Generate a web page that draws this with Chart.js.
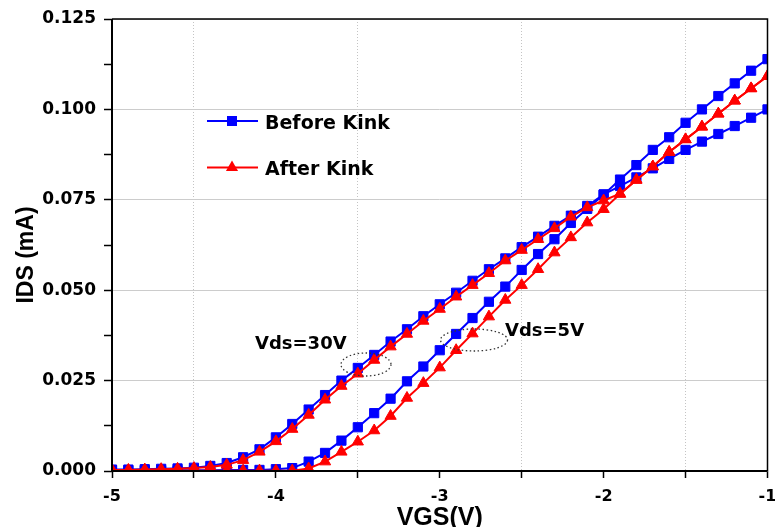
<!DOCTYPE html>
<html>
<head>
<meta charset="utf-8">
<script src="https://cdn.jsdelivr.net/npm/chart.js@4.4.1/dist/chart.umd.min.js"></script>
<style>
html,body{margin:0;padding:0;background:#fff;overflow:hidden}
#wrap{width:775px;height:527px;position:relative}
</style>
</head>
<body>
<div id="wrap"><canvas id="c" width="775" height="527"></canvas></div>
<script>
// ---- data ----
const vgs = [-5.0,-4.9,-4.8,-4.7,-4.6,-4.5,-4.4,-4.3,-4.2,-4.1,-4.0,-3.9,-3.8,-3.7,-3.6,-3.5,-3.4,-3.3,-3.2,-3.1,-3.0,-2.9,-2.8,-2.7,-2.6,-2.5,-2.4,-2.3,-2.2,-2.1,-2.0,-1.9,-1.8,-1.7,-1.6,-1.5,-1.4,-1.3,-1.2,-1.1,-1.0];

const beforeKinkVds30 = [0.0004,0.0004,0.0005,0.0006,0.0007,0.0009,0.0014,0.0022,0.0038,0.0060,
  0.0093,0.0130,0.0170,0.0210,0.0250,0.0285,0.0321,0.0358,0.0392,0.0428,
  0.0461,0.0493,0.0526,0.0558,0.0588,0.0619,0.0648,0.0678,0.0706,0.0733,
  0.0765,0.0788,0.0812,0.0837,0.0863,0.0888,0.0911,0.0932,0.0954,0.0977,0.1000];

const afterKinkVds30 = [0.0003,0.0003,0.0004,0.0005,0.0006,0.0008,0.0011,0.0017,0.0030,0.0053,
  0.0082,0.0116,0.0155,0.0197,0.0235,0.0269,0.0307,0.0344,0.0379,0.0415,
  0.0448,0.0482,0.0514,0.0547,0.0582,0.0611,0.0641,0.0671,0.0703,0.0729,
  0.0748,0.0767,0.0805,0.0842,0.0882,0.0917,0.0952,0.0988,0.1024,0.1058,0.1092];

const beforeKinkVds5 = [0.0002,0.0002,0.0002,0.0002,0.0002,0.0002,0.0002,0.0003,0.0003,0.0003,
  0.0005,0.0008,0.0026,0.0050,0.0084,0.0121,0.0160,0.0200,0.0248,0.0289,
  0.0334,0.0379,0.0423,0.0468,0.0510,0.0556,0.0600,0.0641,0.0686,0.0725,
  0.0764,0.0806,0.0846,0.0888,0.0923,0.0963,0.1000,0.1037,0.1072,0.1107,0.1139];

const afterKinkVds5 = [0.0001,0.0001,0.0001,0.0001,0.0001,0.0001,0.0001,0.0001,0.0001,0.0001,
  0.0001,0.0001,0.0007,0.0026,0.0053,0.0081,0.0112,0.0152,0.0202,0.0243,
  0.0286,0.0334,0.0380,0.0427,0.0473,0.0514,0.0558,0.0604,0.0646,0.0687,
  0.0724,0.0766,0.0805,0.0842,0.0882,0.0917,0.0952,0.0988,0.1024,0.1058,0.1092];

const legendLabels = ["Before Kink", "After Kink"];
const annotationLabels = ["Vds=30V", "Vds=5V"];
const xTitle = "VGS(V)";
const yTitle = "IDS (mA)";

// ---- build ----
const toPoints = arr => arr.map((y, i) => ({x: vgs[i], y: y}));
const BLUE = '#0000ff', RED = '#ff0000';
const isInt = v => Math.abs(v - Math.round(v)) < 1e-9;
const isMajorY = v => Math.abs(v / 0.025 - Math.round(v / 0.025)) < 1e-6;

function ds(label, arr, color, style, order) {
  return {
    label: label, data: toPoints(arr),
    borderColor: color, backgroundColor: color,
    pointBackgroundColor: color, pointBorderColor: color, pointBorderWidth: 1,
    pointStyle: style, pointRadius: 6.5, borderWidth: 2,
    tension: 0, order: order, clip: 0
  };
}

const tickFont = {family: '"DejaVu Sans", sans-serif', weight: 'bold', size: 16};

const overlay = {
  id: 'overlay',
  afterDraw(chart) {
    const ctx = chart.ctx;
    const a = chart.chartArea;
    ctx.save();
    // frame
    ctx.strokeStyle = '#000';
    ctx.lineWidth = 1.5;
    ctx.beginPath();
    ctx.moveTo(a.left, a.top); ctx.lineTo(a.right, a.top); ctx.lineTo(a.right, a.bottom);
    ctx.stroke();
    ctx.lineWidth = 2;
    ctx.beginPath();
    ctx.moveTo(a.left, a.top); ctx.lineTo(a.left, a.bottom); ctx.lineTo(a.right, a.bottom);
    ctx.stroke();

    // legend
    const items = [
      {y: 121, base: 128.5, color: BLUE, style: 'rect', text: legendLabels[0]},
      {y: 167.5, base: 175, color: RED, style: 'triangle', text: legendLabels[1]}
    ];
    items.forEach(it => {
      ctx.strokeStyle = it.color; ctx.fillStyle = it.color; ctx.lineWidth = 2;
      ctx.beginPath(); ctx.moveTo(207, it.y); ctx.lineTo(258, it.y); ctx.stroke();
      ctx.beginPath();
      if (it.style === 'rect') {
        ctx.rect(232 - 5, it.y - 5, 10, 10);
      } else {
        const r = 7;
        ctx.moveTo(232, it.y - r);
        ctx.lineTo(232 + r * 0.866, it.y + r * 0.5);
        ctx.lineTo(232 - r * 0.866, it.y + r * 0.5);
        ctx.closePath();
      }
      ctx.fill();
      ctx.fillStyle = '#000';
      ctx.font = 'bold 19px "DejaVu Sans", sans-serif';
      ctx.textAlign = 'left'; ctx.textBaseline = 'alphabetic';
      ctx.fillText(it.text, 265, it.base);
    });

    // annotations
    ctx.fillStyle = '#000';
    ctx.font = 'bold 18px "DejaVu Sans", sans-serif';
    ctx.fillText(annotationLabels[0], 255, 348.5);
    ctx.fillText(annotationLabels[1], 505, 336);
    ctx.strokeStyle = '#333'; ctx.lineWidth = 1.3; ctx.setLineDash([1.5, 2.5]);
    ctx.beginPath(); ctx.ellipse(366, 364.5, 25, 11.5, 0, 0, Math.PI * 2); ctx.stroke();
    ctx.beginPath(); ctx.ellipse(474, 340, 33.5, 11, 0, 0, Math.PI * 2); ctx.stroke();
    ctx.setLineDash([]);

    // axis titles
    ctx.fillStyle = '#000';
    ctx.font = 'bold 25px "Liberation Sans", Arial, sans-serif';
    ctx.textAlign = 'center'; ctx.textBaseline = 'alphabetic';
    ctx.fillText(xTitle, (a.left + a.right) / 2, 525);
    ctx.save();
    ctx.translate(33.3, 255);
    ctx.rotate(-Math.PI / 2);
    ctx.font = 'bold 23px "Liberation Sans", Arial, sans-serif';
    ctx.fillText(yTitle, 0, 0);
    ctx.restore();
    ctx.restore();
  }
};

new Chart(document.getElementById('c').getContext('2d'), {
  type: 'line',
  data: {
    datasets: [
      ds(legendLabels[1] + ' (Vds=30V)', afterKinkVds30, RED, 'triangle', 0),
      ds(legendLabels[1] + ' (Vds=5V)', afterKinkVds5, RED, 'triangle', 0),
      ds(legendLabels[0] + ' (Vds=30V)', beforeKinkVds30, BLUE, 'rect', 1),
      ds(legendLabels[0] + ' (Vds=5V)', beforeKinkVds5, BLUE, 'rect', 1)
    ]
  },
  options: {
    responsive: false, animation: false, devicePixelRatio: 1,
    layout: {padding: {top: 19, right: 1.5, left: 0, bottom: 0}},
    plugins: {legend: {display: false}, tooltip: {enabled: false}},
    scales: {
      x: {
        type: 'linear', min: -5, max: -1,
        ticks: {stepSize: 0.5, autoSkip: false, maxRotation: 0, padding: 9, color: '#000', font: tickFont,
          callback: v => isInt(v) ? String(Math.round(v)) : ''},
        grid: {color: c => (c.tick && isInt(c.tick.value)) ? 'rgba(0,0,0,0)' : '#c4c4c4',
          lineWidth: 1, tickColor: '#000', tickLength: 7, tickWidth: 1.5, drawTicks: true},
        border: {display: false, dash: [1, 2]},
        afterFit: s => { s.height = 56; s.paddingLeft = 0; s.paddingRight = 0; }
      },
      y: {
        type: 'linear', min: 0, max: 0.125,
        ticks: {stepSize: 0.0125, autoSkip: false, padding: 8, color: '#000',
          font: {family: '"DejaVu Sans", sans-serif', weight: 'bold', size: 17},
          callback: v => isMajorY(v) ? v.toFixed(3) : ''},
        grid: {color: c => (c.tick && isMajorY(c.tick.value)) ? '#cccccc' : 'rgba(0,0,0,0)',
          lineWidth: 1, tickColor: '#000', tickLength: 8, tickWidth: 1.5, drawTicks: true},
        border: {display: false},
        afterFit: s => { s.width = 112; s.paddingTop = 0; s.paddingBottom = 0; }
      }
    }
  },
  plugins: [overlay]
});
</script>
</body>
</html>
